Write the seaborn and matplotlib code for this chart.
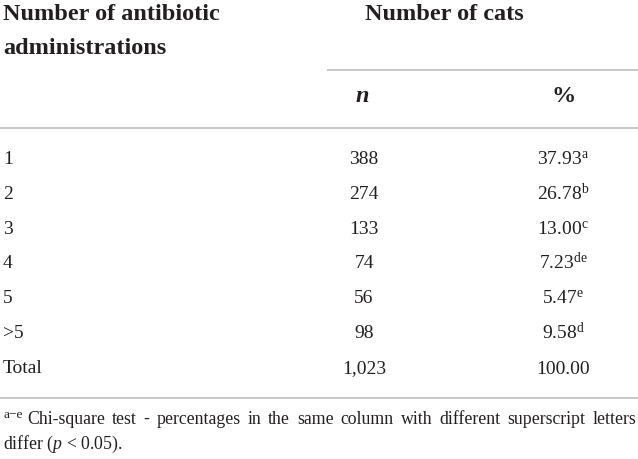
import matplotlib
matplotlib.use("Agg")
import matplotlib.pyplot as plt
import seaborn as sns
import pandas as pd

categories = ["1", "2", "3", "4", "5", ">5", "Total"]
n_values = ["388", "274", "133", "74", "56", "98", "1,023"]
pct_values = ["37.93", "26.78", "13.00", "7.23", "5.47", "9.58", "100.00"]
pct_letters = ["a", "b", "c", "de", "e", "d", ""]
header_left = ["Number of antibiotic", "administrations"]
header_group = "Number of cats"
sub_headers = ["n", "%"]
footnote_line1 = "Chi-square test - percentages in the same column with different superscript letters"
footnote_line2 = "differ ($p$ < 0.05)."
footnote_sup = "a\u2212e"

df = pd.DataFrame({"cat": categories, "n": n_values, "pct": pct_values, "sup": pct_letters})

sns.set_theme(style="white")
plt.rcParams["font.family"] = ["Liberation Serif", "DejaVu Serif"]
plt.rcParams["mathtext.fontset"] = "custom"
plt.rcParams["mathtext.rm"] = "Liberation Serif"
plt.rcParams["mathtext.it"] = "Liberation Serif:italic"
plt.rcParams["mathtext.bf"] = "Liberation Serif:bold"

W, H = 638, 459
fig = plt.figure(figsize=(W / 100, H / 100), dpi=100)
ax = fig.add_axes([0, 0, 1, 1])
ax.set_xlim(0, W)
ax.set_ylim(H, 0)
ax.axis("off")

txt = "#231f20"
line_col = "#c6c6c6"
hdr_size = 17.5
body_size = 14
foot_size = 12.8

# headers
ax.text(3, 14, header_left[0], fontsize=hdr_size, fontweight="bold", color=txt, va="center", ha="left")
ax.text(3, 48, header_left[1], fontsize=hdr_size, fontweight="bold", color=txt, va="center", ha="left")
ax.text(444, 15, header_group, fontsize=hdr_size, fontweight="bold", color=txt, va="center", ha="center")
ax.plot([327, W], [70, 70], color=line_col, lw=1.4, solid_capstyle="butt")
ax.text(362, 96, sub_headers[0], fontsize=hdr_size, fontweight="bold", fontstyle="italic", color=txt,
        va="center", ha="center")
ax.text(564, 96, sub_headers[1], fontsize=hdr_size, fontweight="bold", color=txt, va="center", ha="center")
ax.plot([0, W], [128, 128], color=line_col, lw=1.4, solid_capstyle="butt")

row_y0, row_dy = 159.5, 34.8
for i, row in df.iterrows():
    y = row_y0 + i * row_dy
    ax.text(3, y, row["cat"], fontsize=body_size, color=txt, va="center", ha="left")
    ax.text(364, y, row["n"], fontsize=body_size, color=txt, va="center", ha="center")
    label = row["pct"] + (r"$^{\mathrm{%s}}$" % row["sup"] if row["sup"] else "")
    ax.text(563, y + 5.5, label, fontsize=body_size, color=txt, va="baseline", ha="center")

ax.plot([0, W], [398, 398], color=line_col, lw=1.4, solid_capstyle="butt")

# footnote, first line justified between x=27 and x=636
ax.text(4, 418, footnote_sup, fontsize=foot_size * 0.75, color=txt, va="baseline", ha="left")
fig.canvas.draw()
renderer = fig.canvas.get_renderer()
inv = ax.transData.inverted()
words = footnote_line1.split(" ")
widths = []
for w in words:
    tt = ax.text(0, 0, w, fontsize=foot_size)
    bb = tt.get_window_extent(renderer)
    widths.append(inv.transform((bb.x1, 0))[0] - inv.transform((bb.x0, 0))[0])
    tt.remove()
x0, x1 = 27, 636
gap = (x1 - x0 - sum(widths)) / (len(words) - 1)
x = x0
for w, wd in zip(words, widths):
    ax.text(x, 424, w, fontsize=foot_size, color=txt, va="baseline", ha="left")
    x += wd + gap
ax.text(3, 449, footnote_line2, fontsize=foot_size, color=txt, va="baseline", ha="left")

fig.savefig("out.png", dpi=100, facecolor="white")
